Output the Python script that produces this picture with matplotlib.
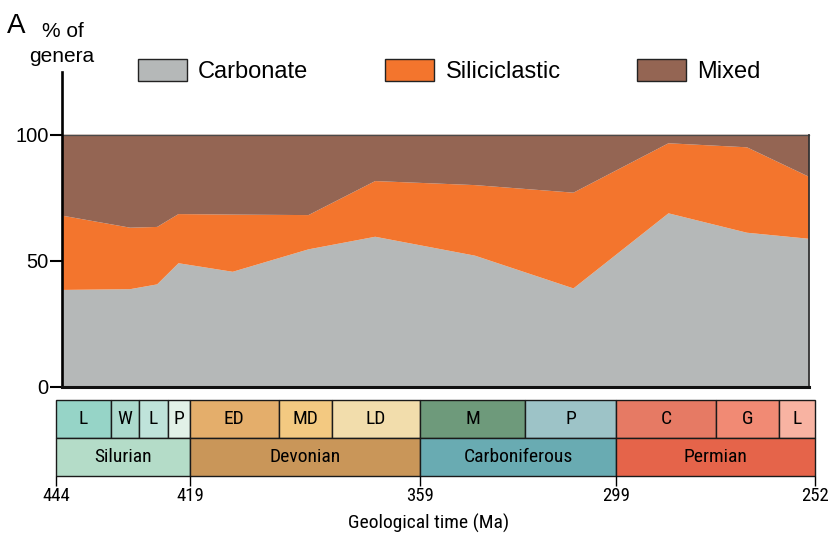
import numpy as np
import matplotlib
matplotlib.use("Agg")
import matplotlib.pyplot as plt
from matplotlib.patches import Patch
from matplotlib import font_manager

# ---------------- data ----------------
ages = [442.8, 428.9, 424.5, 421.1, 406.5, 387.4, 371.2, 340.2, 310.3, 285.4, 266.1, 253.2]
carbonate = [38.4, 38.7, 40.6, 49.0, 45.6, 54.5, 59.5, 52.0, 39.0, 68.8, 61.1, 58.7]
siliciclastic = [29.5, 24.4, 22.8, 19.5, 22.7, 13.6, 22.1, 28.0, 38.0, 27.8, 33.9, 24.6]
mixed = [32.1, 36.9, 36.6, 31.5, 31.7, 31.9, 18.4, 20.0, 23.0, 3.4, 5.0, 16.7]
series_labels = ["Carbonate", "Siliciclastic", "Mixed"]

stage_names = ["L", "W", "L", "P", "ED", "MD", "LD", "M", "P", "C", "G", "L"]
stage_start = [444, 433, 427, 423, 419, 393, 383, 359, 323, 299, 273, 259]
stage_end = [433, 427, 423, 419, 393, 383, 359, 323, 299, 273, 259, 252]
period_names = ["Silurian", "Devonian", "Carboniferous", "Permian"]
period_start = [444, 419, 359, 299]
period_end = [419, 359, 299, 252]
xtick_ages = [444, 419, 359, 299, 252]
ytick_vals = [0, 50, 100]

# ---------------- style ----------------
series_colors = ["#b5b8b8", "#f3752d", "#946553"]
stage_colors = ['#96d4c7', '#acdacd', '#bfe3da', '#e2f1e8', '#e4ae6b', '#f3c981',
                '#f2ddac', '#6e9a7b', '#9dc3c7', '#e67a64', '#f18a74', '#f8b3a2']
period_colors = ['#b4dcc8', '#c99659', '#69abb2', '#e5644a']
SANS = ["Liberation Sans", "DejaVu Sans"]

# pick a condensed sans if one is installed, otherwise shrink the regular one
installed = {f.name for f in font_manager.fontManager.ttflist}
narrow_choice = None
for cand in ["Liberation Sans Narrow", "Roboto Condensed", "DejaVu Sans Condensed",
             "Open Sans Condensed", "Noto Sans Condensed"]:
    if cand in installed:
        narrow_choice = cand
        break
if narrow_choice is not None:
    NARROW = [narrow_choice, "Liberation Sans"]
    nscale = 1.0
else:
    NARROW = ["Liberation Sans", "DejaVu Sans"]
    nscale = 0.86

W, H = 830, 539
fig = plt.figure(figsize=(W / 100, H / 100), dpi=100)

# piecewise (non-linear) time scale of the chart: boundary ages -> axis position
knot_ages = np.array([444, 433, 427, 423, 419, 393, 383, 359, 323, 299, 273, 259, 252], float)
knot_px = np.array([56, 111, 139, 168, 190, 278.7, 331.7, 420, 525, 616.3, 715.7, 778.7, 815])
knot_u = (knot_px - knot_px[0]) / (knot_px[-1] - knot_px[0])


def fwd(a):
    # increasing in age (axis is reversed by the limits: old on the left)
    return 1.0 - np.interp(np.asarray(a, float), knot_ages[::-1], knot_u[::-1])


def inv(v):
    return np.interp(1.0 - np.asarray(v, float), knot_u, knot_ages)


# ---------------- main area chart ----------------
ax = fig.add_axes([62 / W, (H - 386.7) / H, (809 - 62) / W, (386.7 - 71.7) / H])
ax.set_xscale("function", functions=(fwd, inv))
ax.stackplot(ages, carbonate, siliciclastic, mixed, colors=series_colors, linewidth=0)
ax.set_xlim(ages[0], ages[-1])
ax.set_ylim(0, 125)
ax.plot([ages[0], ages[-1]], [100, 100], color="#4a4a4a", lw=0.9, clip_on=False)
ax.plot([ages[-1], ages[-1]], [0, 100], color="#333333", lw=1.3, clip_on=False)
for s in ["top", "right"]:
    ax.spines[s].set_visible(False)
ax.spines["left"].set_linewidth(1.9)
ax.spines["bottom"].set_linewidth(2.2)
ax.spines["bottom"].set_color("#111111")
ax.set_xticks([])
ax.set_yticks(ytick_vals)
ax.set_yticklabels([str(v) for v in ytick_vals], fontsize=14.5, family=SANS)
ax.tick_params(axis="y", direction="out", length=9, width=1.5, pad=0.5)

# legend
handles = [Patch(facecolor=c, edgecolor="#222222", linewidth=1.0) for c in series_colors]
fig.legend(handles, series_labels, loc="center left", bbox_to_anchor=(138 / W, 1 - 71 / H),
           bbox_transform=fig.transFigure, ncol=3, frameon=False,
           prop={"family": SANS, "size": 17}, handlelength=2.08, handleheight=1.1,
           handletextpad=0.47, columnspacing=3.25, borderpad=0, borderaxespad=0)

fig.text(7 / W, 1 - 33 / H, "A", fontsize=20, family=SANS, ha="left", va="baseline")
fig.text(62.5 / W, 1 - 37 / H, "% of", fontsize=15, family=SANS, ha="center", va="baseline")
fig.text(61.5 / W, 1 - 61.5 / H, "genera", fontsize=15, family=SANS, ha="center", va="baseline")

# ---------------- time scale ----------------
tax = fig.add_axes([56 / W, (H - 476) / H, 759 / W, 76 / H])
tax.set_xscale("function", functions=(fwd, inv))
tax.set_xlim(444, 252)
tax.set_ylim(0, 2)
tax.bar(stage_start, 1, width=np.subtract(stage_end, stage_start), bottom=1, align="edge",
        color=stage_colors, edgecolor="#1a1a1a", linewidth=1.0, clip_on=False)
tax.bar(period_start, 1, width=np.subtract(period_end, period_start), bottom=0, align="edge",
        color=period_colors, edgecolor="#1a1a1a", linewidth=1.0, clip_on=False)
for name, s, e in zip(stage_names, stage_start, stage_end):
    mid = inv((fwd(s) + fwd(e)) / 2)
    tax.text(mid, 1.5, name, ha="center", va="center", fontsize=14 * nscale, family=NARROW)
for name, s, e in zip(period_names, period_start, period_end):
    mid = inv((fwd(s) + fwd(e)) / 2)
    tax.text(mid, 0.5, name, ha="center", va="center", fontsize=14 * nscale, family=NARROW)
for s in ["top", "right", "left", "bottom"]:
    tax.spines[s].set_visible(False)
tax.set_yticks([])
tax.set_xticks(xtick_ages)
tax.set_xticklabels([str(a) for a in xtick_ages], fontsize=13.5 * nscale, family=NARROW)
tax.tick_params(axis="x", direction="out", length=7.5, width=1.0, pad=0.5)

fig.text(428.5 / W, 1 - 529 / H, "Geological time (Ma)", fontsize=14 * nscale, family=NARROW,
         ha="center", va="baseline")

fig.savefig("out.png", dpi=100)
